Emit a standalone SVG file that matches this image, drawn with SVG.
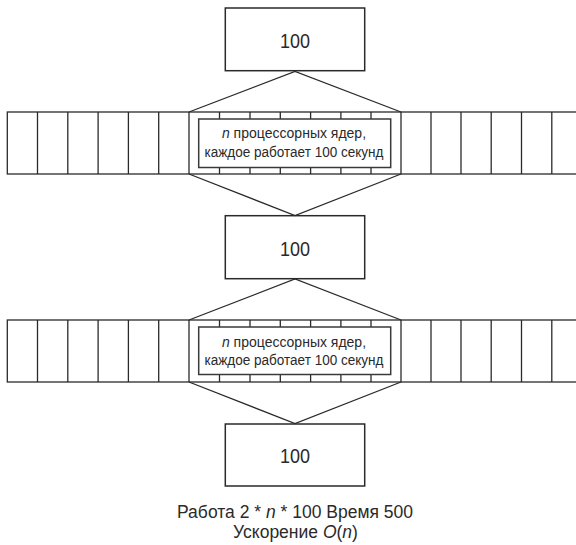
<svg xmlns="http://www.w3.org/2000/svg" width="576" height="545" viewBox="0 0 576 545">
<style>
.box{fill:#fff;stroke:#2a2a2a;stroke-width:1.5}
.row{fill:#fff;stroke:#2a2a2a;stroke-width:1.3}
.col{stroke:#2a2a2a;stroke-width:1.3}
.inner{fill:#fff;stroke:#3a3a3a;stroke-width:1.5}
.edge{fill:none;stroke:#2a2a2a;stroke-width:1.3}
text{font-family:"Liberation Sans","Open Sans",sans-serif;fill:#2a2a2a;text-anchor:middle}
.big{font-size:20px}
.small{font-size:14px}
.cap{font-size:17.5px}
</style>
<defs>
<g id="cols">
<line class="col" x1="37.5" y1="0" x2="37.5" y2="62"/>
<line class="col" x1="67.8" y1="0" x2="67.8" y2="62"/>
<line class="col" x1="98.1" y1="0" x2="98.1" y2="62"/>
<line class="col" x1="128.4" y1="0" x2="128.4" y2="62"/>
<line class="col" x1="158.7" y1="0" x2="158.7" y2="62"/>
<line class="col" x1="189" y1="0" x2="189" y2="62"/>
<line class="col" x1="219.5" y1="0" x2="219.5" y2="62"/>
<line class="col" x1="250" y1="0" x2="250" y2="62"/>
<line class="col" x1="280.3" y1="0" x2="280.3" y2="62"/>
<line class="col" x1="310.6" y1="0" x2="310.6" y2="62"/>
<line class="col" x1="340.9" y1="0" x2="340.9" y2="62"/>
<line class="col" x1="371" y1="0" x2="371" y2="62"/>
<line class="col" x1="401" y1="0" x2="401" y2="62"/>
<line class="col" x1="431" y1="0" x2="431" y2="62"/>
<line class="col" x1="461" y1="0" x2="461" y2="62"/>
<line class="col" x1="491.2" y1="0" x2="491.2" y2="62"/>
<line class="col" x1="521.5" y1="0" x2="521.5" y2="62"/>
<line class="col" x1="551.8" y1="0" x2="551.8" y2="62"/>
</g>
</defs>

<g id="box1">
<rect class="box" x="225.3" y="8" width="139.4" height="62.7"/>
<text class="big" x="295" y="48" textLength="30" lengthAdjust="spacingAndGlyphs">100</text>
</g>

<g id="cores1">
<rect class="row" x="7.3" y="112" width="580" height="62"/>
<use href="#cols" y="112"/>
<rect class="inner" x="198.7" y="119" width="192" height="48.5"/>
<text class="small" x="294" y="138.3"><tspan font-style="italic">n</tspan> процессорных ядер,</text>
<text class="small" x="294" y="156.7" textLength="179" lengthAdjust="spacingAndGlyphs">каждое работает 100 секунд</text>
</g>

<g id="box2">
<rect class="box" x="225.3" y="215.7" width="139.4" height="63"/>
<text class="big" x="295" y="256" textLength="30" lengthAdjust="spacingAndGlyphs">100</text>
</g>

<g id="cores2">
<rect class="row" x="7.3" y="320" width="580" height="62"/>
<use href="#cols" y="320"/>
<rect class="inner" x="198.7" y="327" width="192" height="47.5"/>
<text class="small" x="294" y="346.5"><tspan font-style="italic">n</tspan> процессорных ядер,</text>
<text class="small" x="294" y="364.8" textLength="179" lengthAdjust="spacingAndGlyphs">каждое работает 100 секунд</text>
</g>

<g id="box3">
<rect class="box" x="225.3" y="424" width="139.4" height="62"/>
<text class="big" x="295" y="463.3" textLength="30" lengthAdjust="spacingAndGlyphs">100</text>
</g>

<g id="caption">
<text class="cap" x="295" y="518">Работа 2 * <tspan font-style="italic">n</tspan> * 100 Время 500</text>
<text class="cap" x="295.5" y="537.5">Ускорение <tspan font-style="italic">O</tspan>(<tspan font-style="italic">n</tspan>)</text>
</g>

<g id="connectors">
<polyline class="edge" points="189,112 295,71.5 401,112"/>
<polyline class="edge" points="189,174 295,215.5 401,174"/>
<polyline class="edge" points="189,320 295,279 401,320"/>
<polyline class="edge" points="189,382 295,423.5 401,382"/>
</g>
</svg>
